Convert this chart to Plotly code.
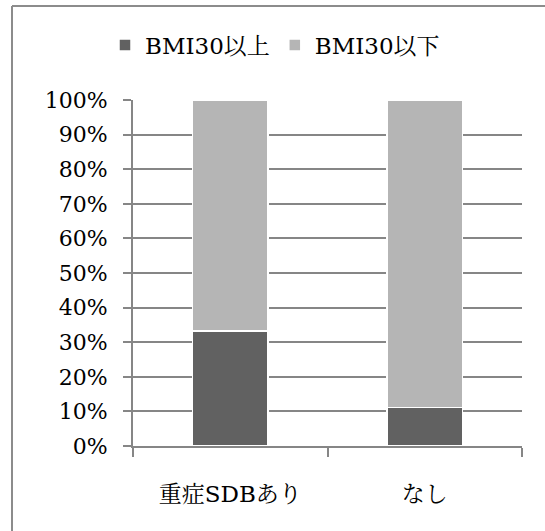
import plotly.graph_objects as go

categories = ["重症SDBあり", "なし"]
bmi_over30 = [33.3, 11.1]
bmi_under30 = [66.7, 88.9]
series_names = ["BMI30以上", "BMI30以下"]
tick_vals = [0, 10, 20, 30, 40, 50, 60, 70, 80, 90, 100]
tick_text = [f"{v}%" for v in tick_vals]

W, H = 545, 531
L, R, T, B = 133, 23, 100, 85
pw, ph = W - L - R, H - T - B

FONT = "'DejaVu Serif', 'Noto Serif CJK JP', 'Noto Sans CJK JP', serif"

fig = go.Figure()
fig.add_trace(go.Bar(x=categories, y=bmi_over30, name=series_names[0],
                     marker=dict(color="#616161", line=dict(color="white", width=1.5)),
                     width=0.39))
fig.add_trace(go.Bar(x=categories, y=bmi_under30, name=series_names[1],
                     marker=dict(color="#b5b5b5", line=dict(color="white", width=1.5)),
                     width=0.39))

def px_x(x):
    return (x - L) / pw

def px_y(y):
    return (H - B - y) / ph

# outer chart border (left and top visible)
fig.add_shape(type="line", xref="paper", yref="paper",
              x0=px_x(12), x1=px_x(12), y0=px_y(6), y1=px_y(540),
              line=dict(color="#8c8c8c", width=2))
fig.add_shape(type="line", xref="paper", yref="paper",
              x0=px_x(12), x1=px_x(560), y0=px_y(6), y1=px_y(6),
              line=dict(color="#8c8c8c", width=2))

fig.update_layout(
    width=W, height=H,
    margin=dict(l=L, r=R, t=T, b=B),
    paper_bgcolor="white", plot_bgcolor="white",
    barmode="stack",
    font=dict(family=FONT, size=22, color="black"),
    showlegend=True,
    legend=dict(orientation="h", x=px_x(275), xanchor="center",
                y=px_y(45), yanchor="middle",
                font=dict(family=FONT, size=23), traceorder="normal",
                itemwidth=30),
    xaxis=dict(showline=True, linecolor="#868686", linewidth=2,
               ticks="outside", ticklen=9, tickcolor="#868686", tickwidth=2,
               tickson="boundaries", showgrid=False,
               tickfont=dict(family=FONT, size=23), ticklabelstandoff=26),
    yaxis=dict(range=[0, 100], tickvals=tick_vals, ticktext=tick_text,
               showline=True, linecolor="#868686", linewidth=2,
               ticks="outside", ticklen=8, tickcolor="#868686", tickwidth=2,
               showgrid=True, gridcolor="#868686", gridwidth=2,
               zeroline=False,
               tickfont=dict(family=FONT, size=22), ticklabelstandoff=11),
)

fig.write_html("out.html")
